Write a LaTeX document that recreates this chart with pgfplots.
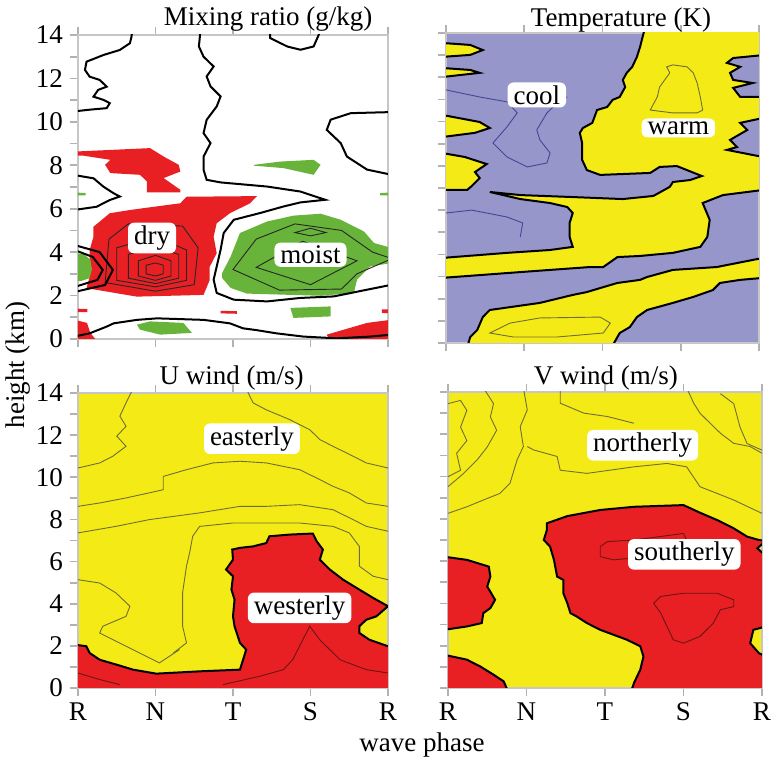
\documentclass[border=0pt]{standalone}
\usepackage{pgfplots}
\pgfplotsset{compat=1.18}
\usepackage{fontspec}
\setmainfont{Liberation Serif}
\definecolor{mred}{RGB}{232,32,36}
\definecolor{myel}{RGB}{244,234,22}
\definecolor{mgrn}{RGB}{104,180,58}
\definecolor{mlav}{RGB}{150,150,202}
\definecolor{cblue}{RGB}{70,70,150}
\definecolor{colive}{RGB}{110,110,50}
\definecolor{cdred}{RGB}{110,20,20}
\newcommand{\fs}{\fontsize{13.5}{16}\selectfont}
\pgfplotsset{
 panel/.style={scale only axis, anchor=south west, xmin=0,xmax=4,ymin=0,ymax=14,
  xtick={0,1,2,3,4}, ytick={0,2,...,14}, minor ytick={1,3,...,13},
  tick align=outside, xtick pos=both, ytick pos=left,
  major tick length=4pt, minor tick length=4pt,
  tick style={gray!60, line width=0.9pt},
  axis line style={gray!45, line width=0.8pt},
  tick label style={font=\fs},
  /pgf/number format/assume math mode=true,
  xticklabels={}},
}
\tikzset{
 zero/.style={draw=black, line width=1pt},
 thinc/.style={draw=black!85, line width=0.45pt},
 lab/.style={fill=white, rounded corners=3pt, inner xsep=3pt, inner ysep=1.5pt, font=\fs},
}
\begin{document}
\begin{tikzpicture}
\useasboundingbox (0,0) rectangle (386.5pt,381.5pt);
%================ Mixing ratio =================
\begin{axis}[panel, at={(39pt,212pt)}, width=155pt, height=152pt]
% dry region
\addplot[fill=mred, draw=none] coordinates {(0.20,5.17)(0.41,5.79)(0.67,5.94)(1.32,6.25)(1.40,6.55)(2.31,6.58)(2.22,6.25)(1.96,5.79)(1.79,5.33)(1.75,4.71)(1.79,3.95)(1.70,3.33)(1.70,2.72)(1.62,2.03)(0.76,1.95)(0.11,2.34)(0.15,2.87)(0.15,4.1)(0.20,4.71)} --cycle;
\addplot[fill=mred, draw=none] coordinates {(-0.05,8.63)(0.93,8.79)(1.105,8.40)(1.30,8.02)(1.32,7.71)(1.105,7.41)(1.32,6.87)(1.32,6.75)(0.89,6.75)(0.89,7.25)(0.80,7.56)(0.417,7.64)(0.35,8.02)(0.417,8.25)(0.073,8.44)(-0.05,8.44)} --cycle;
\addplot[fill=mred, draw=none] coordinates {(-0.05,0.89)(0.116,0.74)(0.159,0.28)(0.245,-0.1)(-0.05,-0.1)} --cycle;
\addplot[fill=mred, draw=none] coordinates {(3.21,0.2)(3.73,0.74)(4.05,0.89)(4.05,-0.1)(3.25,-0.1)} --cycle;
\addplot[fill=mred, draw=none] coordinates {(1.84,1.30)(2.05,1.28)(2.05,1.16)(1.84,1.18)} --cycle;
\addplot[fill=mred, draw=none] coordinates {(3.92,1.36)(4.05,1.36)(4.05,1.18)(3.92,1.20)} --cycle;
\addplot[fill=mred, draw=none] coordinates {(-0.05,1.40)(0.12,1.38)(0.12,1.24)(-0.05,1.24)} --cycle;
% moist region
\addplot[fill=mgrn, draw=none] coordinates {(1.86,3.04)(1.97,3.80)(2.09,4.88)(2.44,5.41)(2.78,5.68)(3.13,5.77)(3.39,5.49)(3.69,4.95)(3.82,4.42)(4.05,4.19)(4.05,3.50)(3.77,3.34)(3.60,2.73)(3.56,2.12)(3.13,1.99)(2.18,2.09)(1.97,2.35)(1.86,2.81)} --cycle;
\addplot[fill=mgrn, draw=none] coordinates {(-0.05,3.96)(0.08,3.90)(0.16,3.65)(0.18,3.20)(0.15,2.80)(0.05,2.68)(-0.05,2.65)} --cycle;
\addplot[fill=mgrn, draw=none] coordinates {(2.27,8.02)(2.61,8.17)(3.04,8.25)(3.13,8.02)(3.04,7.56)(2.65,7.87)(2.27,7.98)} --cycle;
\addplot[fill=mgrn, draw=none] coordinates {(2.74,1.43)(3.26,1.50)(3.26,1.04)(2.78,0.97)} --cycle;
\addplot[fill=mgrn, draw=none] coordinates {(0.76,0.66)(0.93,0.81)(1.36,0.74)(1.47,0.28)(1.06,0.20)(0.80,0.43)} --cycle;
\addplot[fill=mgrn, draw=none] coordinates {(-0.05,6.75)(0.10,6.72)(0.10,6.62)(-0.05,6.60)} --cycle;
\addplot[fill=mgrn, draw=none] coordinates {(3.90,6.72)(4.05,6.75)(4.05,6.60)(3.90,6.62)} --cycle;
% inner contours
\addplot[thinc] coordinates {(0.35,2.6)(0.4,4.6)(0.65,5.3)(1.35,5.2)(1.55,4.2)(1.5,2.5)(1.0,2.2)} --cycle;
\addplot[thinc] coordinates {(0.5,2.7)(0.5,4.2)(1.0,4.7)(1.4,4.1)(1.4,2.7)(1.0,2.4)} --cycle;
\addplot[thinc] coordinates {(0.65,2.8)(0.65,3.9)(1.0,4.2)(1.3,3.9)(1.3,2.8)(1.0,2.55)} --cycle;
\addplot[thinc] coordinates {(0.78,2.9)(0.78,3.6)(1.0,3.85)(1.2,3.6)(1.2,2.9)(1.0,2.7)} --cycle;
\addplot[thinc] coordinates {(0.88,3.0)(0.88,3.4)(1.0,3.5)(1.1,3.4)(1.1,3.0)(1.0,2.9)} --cycle;
\addplot[thinc] coordinates {(2.0,3.2)(2.3,4.6)(2.8,5.3)(3.4,5.0)(3.8,4.0)(4.05,3.7)(3.6,3.0)(3.4,2.3)(2.6,2.25)} --cycle;
\addplot[thinc] coordinates {(2.3,3.3)(2.9,4.5)(3.6,3.6)(3.0,2.5)} --cycle;
\addplot[thinc] coordinates {(2.8,4.9)(3.0,5.1)(3.2,4.9)(3.0,4.75)} --cycle;
% zero contours
\addplot[zero] coordinates {(0.70,14.2)(0.69,13.92)(0.67,13.62)(0.54,13.31)(0.33,13.08)(0.11,12.77)(0.09,12.39)(0.15,12.08)(0.28,11.93)(0.37,11.62)(0.26,11.47)(0.20,11.16)(0.33,11.01)(0.41,10.86)(0.37,10.63)(0.15,10.56)(-0.05,10.48)};
\addplot[zero] coordinates {(1.58,14.2)(1.56,13.47)(1.62,13.0)(1.75,12.55)(1.66,12.09)(1.71,11.63)(1.84,11.17)(1.79,10.71)(1.66,10.09)(1.62,9.48)(1.71,9.02)(1.62,8.40)(1.62,7.79)(1.66,7.33)(1.84,7.21)(2.44,7.02)(2.87,6.79)(3.19,6.41)(2.87,6.29)(2.65,6.10)(2.35,5.80)(2.01,5.49)(1.88,4.88)(1.84,4.11)(1.79,3.34)(1.75,2.73)(1.79,2.12)(2.01,1.81)(2.44,1.73)(2.87,1.89)(3.30,1.96)(3.73,2.27)(4.05,2.50)};
\addplot[zero] coordinates {(4.05,10.45)(3.52,10.4)(3.26,10.1)(3.21,9.63)(3.39,9.02)(3.47,8.4)(3.60,8.1)(3.73,7.8)(4.05,7.56)};
\addplot[zero] coordinates {(2.48,14.2)(2.48,13.86)(2.70,13.47)(2.87,13.32)(3.04,13.47)(3.13,14.2)};
\addplot[zero] coordinates {(-0.05,7.55)(0.20,7.40)(0.33,7.01)(0.46,6.71)(0.54,6.56)(0.41,6.40)(0.24,6.09)(-0.05,5.94)};
\addplot[zero] coordinates {(-0.05,0.11)(0.15,0.26)(0.37,0.57)(0.46,0.72)(0.76,0.88)(1.02,0.95)(1.62,0.88)(1.96,0.72)(2.13,0.49)(2.30,0.41)(2.56,0.26)(2.91,0.11)(3.34,0.03)(3.77,0.11)(4.05,0.2)};
\addplot[zero] coordinates {(-0.05,4.1)(0.19,3.78)(0.32,3.18)(0.25,2.72)(-0.05,2.39)};
\addplot[zero] coordinates {(-0.05,4.33)(0.28,4.0)(0.45,3.18)(0.35,2.49)(-0.05,2.16)};
\node[lab] at (axis cs:0.955,4.65) {dry};
\node[lab] at (axis cs:3.0,3.88) {moist};
\end{axis}
%================ Temperature =================
\begin{axis}[panel, at={(223pt,210pt)}, width=156.5pt, height=155pt, yticklabels={}, axis background/.style={fill=mlav}]
\addplot[fill=myel, zero] coordinates {(2.54,14.2)(4.05,14.2)(4.05,6.91)(3.54,6.68)(3.28,6.32)(3.37,5.56)(3.34,4.79)(3.25,4.34)(2.90,4.07)(2.48,3.93)(2.19,3.88)(2.01,3.43)(1.84,3.43)(0.98,3.21)(-0.05,2.94)(-0.05,3.84)(0.78,4.07)(1.33,4.20)(1.62,4.34)(1.58,4.79)(1.58,5.42)(1.62,5.87)(1.55,6.14)(1.33,6.32)(0.95,6.50)(0.56,6.82)(0.95,6.68)(1.62,6.59)(2.26,6.50)(2.65,6.64)(2.86,7.05)(2.90,7.27)(3.12,7.36)(3.27,7.54)(2.95,7.99)(2.73,7.95)(2.61,7.68)(1.97,7.59)(1.80,7.81)(1.74,8.27)(1.74,9.03)(1.71,9.49)(1.75,9.71)(1.87,9.94)(1.93,10.52)(2.06,10.66)(2.13,10.98)(2.22,11.11)(2.29,11.56)(2.26,11.88)(2.31,12.20)(2.38,12.47)(2.44,12.92)(2.48,13.37)} --cycle;
\addplot[fill=myel, zero] coordinates {(4.05,3.84)(3.46,3.43)(2.90,3.30)(2.57,2.98)(2.48,2.85)(2.19,2.71)(1.97,2.48)(1.80,2.30)(1.62,2.17)(1.20,1.81)(0.56,1.49)(0.47,1.17)(0.40,0.59)(0.31,0.27)(0.26,-0.3)(2.10,-0.3)(2.22,0.45)(2.35,0.72)(2.44,1.17)(2.57,1.49)(2.90,1.81)(3.16,2.08)(3.41,2.39)(3.50,2.71)(3.76,2.85)(4.05,2.94)} --cycle;
\addplot[fill=myel, zero] coordinates {(-0.05,13.55)(0.31,13.46)(0.47,13.23)(0.31,13.01)(-0.05,12.92)} --cycle;
\addplot[fill=myel, zero] coordinates {(-0.05,12.42)(0.31,12.33)(0.43,12.2)(-0.05,12.01)} --cycle;
\addplot[fill=myel, zero] coordinates {(-0.05,10.3)(0.43,9.98)(0.56,9.71)(0.37,9.49)(-0.05,9.3)} --cycle;
\addplot[fill=myel, zero] coordinates {(-0.05,8.58)(0.24,8.40)(0.52,8.08)(0.37,7.72)(0.43,7.45)(0.33,7.09)(0.27,6.91)(-0.05,6.91)} --cycle;
\addplot[fill=mlav, zero] coordinates {(4.05,13.0)(3.67,12.87)(3.59,12.65)(3.76,12.47)(3.63,12.2)(3.67,11.88)(3.92,11.74)(3.67,11.52)(3.76,11.11)(4.05,11.11)} --cycle;
\addplot[fill=mlav, zero] coordinates {(4.05,10.16)(3.76,9.94)(3.85,9.62)(3.63,9.17)(3.72,8.85)(3.59,8.72)(4.05,8.40)} --cycle;
\addplot[draw=cblue, line width=0.45pt] coordinates {(0,11.43)(0.43,11.11)(0.78,10.89)(0.91,10.39)(0.78,9.76)(0.60,9.03)(0.78,8.40)(1.04,7.95)(1.29,8.13)(1.33,8.58)(1.20,9.17)(1.16,9.62)(1.29,10.39)(1.46,10.98)(1.55,11.11)};
\addplot[draw=cblue, line width=0.45pt] coordinates {(0,5.87)(0.33,6.0)(0.78,5.69)(0.98,5.42)(0.95,4.79)};
\addplot[draw=colive, line width=0.45pt] coordinates {(2.82,12.47)(2.90,12.56)(3.08,12.47)(3.16,12.2)(3.21,11.74)(3.25,11.11)(3.28,10.52)(3.21,10.39)(2.90,10.39)(2.61,10.52)(2.70,11.11)(2.73,11.56)(2.86,12.2)} --cycle;
\addplot[draw=colive, line width=0.45pt] coordinates {(0.56,0.45)(0.82,0.90)(1.20,1.13)(1.97,1.17)(2.10,0.90)(2.01,0.45)(1.42,0.27)(0.86,0.27)} --cycle;
\node[lab] at (axis cs:1.16,11.2) {cool};
\node[lab] at (axis cs:2.97,9.71) {warm};
\end{axis}
%================ U wind =================
\begin{axis}[panel, at={(39pt,37.5pt)}, width=155pt, height=147.5pt, xticklabels={R,N,T,S,R}, axis background/.style={fill=myel}]
\addplot[fill=mred, zero] coordinates {(-0.05,2.06)(0.108,1.98)(0.15,1.66)(0.28,1.34)(0.495,1.11)(0.71,0.87)(1.01,0.68)(1.57,0.79)(2.09,0.87)(2.13,1.34)(2.17,1.82)(2.09,2.14)(2.02,2.93)(2.0,3.40)(2.02,4.19)(1.98,4.67)(2.0,5.30)(1.91,5.62)(2.0,6.09)(1.99,6.57)(2.09,6.65)(2.26,6.72)(2.43,6.88)(2.47,7.20)(2.73,7.28)(3.03,7.33)(3.08,6.96)(3.16,6.57)(3.12,6.09)(3.25,5.62)(3.42,5.14)(3.63,4.67)(3.81,4.27)(4.0,3.88)(3.85,3.40)(3.72,3.24)(3.63,2.93)(3.63,2.61)(3.76,2.29)(4.0,1.98)(4.05,1.98)(4.05,-0.3)(-0.05,-0.3)} --cycle;
\addplot[draw=colive, line width=0.45pt] coordinates {(2.17,14.2)(2.26,13.53)(2.43,13.2)(2.73,12.74)(2.99,12.26)(3.12,11.79)(3.29,11.47)(3.55,11.0)(3.72,10.68)(4.0,10.44)};
\addplot[draw=colive, line width=0.45pt] coordinates {(0.71,14.2)(0.62,13.53)(0.54,12.9)(0.62,12.42)(0.50,11.95)(0.62,11.47)(0.45,11.0)(0.28,10.68)(0.0,10.44)};
\addplot[draw=colive, line width=0.45pt] coordinates {(0,8.62)(0.28,8.78)(0.62,9.02)(0.92,9.26)(1.1,9.41)(1.1,10.04)(1.4,10.36)(1.74,10.68)(2.09,10.76)(2.43,10.68)(2.86,10.36)(3.12,9.89)(3.29,9.57)(3.5,9.26)(3.72,8.78)(4,8.62)};
\addplot[draw=colive, line width=0.45pt] coordinates {(0,7.36)(0.49,7.67)(0.92,7.99)(1.57,8.31)(2.09,8.62)(2.43,8.62)(2.86,8.70)(3.29,8.46)(3.55,7.99)(3.72,7.67)(4,7.44)};
\addplot[draw=colive, line width=0.45pt] coordinates {(1.23,1.66)(1.40,2.14)(1.35,2.93)(1.35,4.53)(1.40,5.78)(1.44,6.41)(1.48,7.20)(1.57,7.67)(2.0,7.83)(2.86,7.83)(3.29,7.67)(3.5,7.36)(3.63,6.72)(3.63,5.78)(3.81,5.30)(4,5.14)};
\addplot[draw=colive, line width=0.45pt] coordinates {(0,5.14)(0.28,4.98)(0.49,4.51)(0.67,3.88)(0.62,3.40)(0.32,2.93)(0.28,2.61)(0.62,1.98)(1.05,1.19)(1.31,1.82)};
\addplot[draw=cdred, line width=0.45pt] coordinates {(1.87,0.16)(2.34,0.55)(2.65,0.87)(2.77,1.34)(2.99,2.93)(3.12,2.29)(3.38,1.34)(3.72,0.87)(4,0.71)};
\addplot[draw=cdred, line width=0.45pt] coordinates {(0,0.71)(0.28,0.40)(0.54,0.16)};
\node[lab] at (axis cs:2.245,11.83) {easterly};
\node[lab] at (axis cs:2.86,3.80) {westerly};
\end{axis}
%================ V wind =================
\begin{axis}[panel, at={(224pt,37.5pt)}, width=157pt, height=148pt, yticklabels={}, xticklabels={R,N,T,S,R}, axis background/.style={fill=myel}]
\addplot[fill=mred, zero] coordinates {(1.26,7.79)(1.52,8.13)(1.94,8.42)(2.37,8.57)(3.0,8.65)(3.21,8.29)(3.43,7.94)(3.64,7.55)(3.81,7.16)(3.96,7.0)(4.05,6.95)(3.94,6.61)(4.05,6.25)(4.05,2.91)(3.89,2.75)(3.85,2.12)(3.96,1.65)(4.05,1.49)(4.05,-0.3)(2.32,-0.3)(2.37,0.24)(2.45,0.87)(2.49,1.49)(2.45,1.97)(2.28,2.28)(1.94,2.75)(1.77,3.07)(1.64,3.38)(1.56,3.54)(1.52,4.01)(1.47,4.48)(1.47,5.11)(1.39,5.27)(1.35,6.06)(1.30,6.69)(1.22,7.0)(1.26,7.47)} --cycle;
\addplot[fill=mred, zero] coordinates {(-0.05,6.21)(0.24,6.06)(0.52,5.74)(0.54,5.27)(0.50,4.80)(0.60,4.17)(0.54,3.78)(0.45,3.54)(0.43,3.07)(0.24,2.91)(-0.05,2.75)} --cycle;
\addplot[fill=mred, zero] coordinates {(-0.05,1.57)(0.24,1.34)(0.41,1.02)(0.58,0.63)(0.71,0.31)(0.78,-0.3)(-0.05,-0.3)} --cycle;
\addplot[draw=colive, line width=0.45pt] coordinates {(0,8.26)(0.24,8.57)(0.45,8.89)(0.66,9.2)(0.79,9.68)(0.84,10.3)(0.88,10.79)(0.96,11.42)(0.92,12.36)(1.01,13.15)(0.96,14.2)};
\addplot[draw=colive, line width=0.45pt] coordinates {(1.01,11.42)(1.09,11.26)(1.39,10.95)(1.43,10.3)(1.77,10.15)(2.37,10.46)(2.79,10.62)(3.04,10.46)(3.21,9.52)(3.43,9.2)(3.64,8.89)(4.0,8.26)};
\addplot[draw=colive, line width=0.45pt] coordinates {(1.43,14.2)(1.43,13.47)(1.73,13.0)(2.03,12.84)(2.19,12.69)(2.37,12.52)};
\addplot[draw=colive, line width=0.45pt] coordinates {(3.04,14.2)(3.13,13.47)(3.21,13.0)(3.34,12.52)(3.47,12.05)(3.64,11.57)(3.85,11.42)(4,11.1)};
\addplot[draw=colive, line width=0.45pt] coordinates {(0,13.45)(0.16,13.6)(0.24,13.13)(0.16,12.34)(0.24,11.7)(0.11,11.1)(0.16,10.3)(0,9.99)};
\addplot[draw=colive, line width=0.45pt] coordinates {(0.45,14.2)(0.58,13.45)(0.54,12.82)(0.62,12.19)(0.50,11.4)(0.37,10.78)(0.2,10.15)(0,9.52)};
\addplot[draw=colive, line width=0.45pt] coordinates {(3.47,13.92)(3.64,13.45)(3.72,12.34)(3.81,11.56)(4.0,11.25)};
\addplot[draw=cdred, line width=0.45pt] coordinates {(1.94,6.69)(2.03,6.92)(2.37,7.0)(2.7,7.16)(3.0,7.31)(3.04,7.0)(2.79,6.69)(2.54,6.21)(2.11,6.06)(1.94,6.21)} --cycle;
\addplot[draw=cdred, line width=0.45pt] coordinates {(2.62,4.01)(2.71,4.33)(3.0,4.48)(3.43,4.48)(3.64,4.17)(3.64,3.85)(3.47,3.70)(3.38,3.07)(3.21,2.44)(3.0,2.12)(2.87,2.28)(2.79,2.91)(2.71,3.54)} --cycle;
\node[lab] at (axis cs:2.48,11.48) {northerly};
\node[lab] at (axis cs:3.01,6.32) {southerly};
\end{axis}
% titles and labels
\node[anchor=base, font=\fs] at (134pt,368.5pt) {Mixing ratio (g/kg)};
\node[anchor=base, font=\fs] at (310.5pt,368.2pt) {Temperature (K)};
\node[anchor=base, font=\fs] at (115.8pt,189pt) {U wind (m/s)};
\node[anchor=base, font=\fs] at (302.9pt,189pt) {V wind (m/s)};
\node[rotate=90, font=\fs] at (9pt,199pt) {height (km)};
\node[anchor=base, font=\fs] at (211pt,5.5pt) {wave phase};
\end{tikzpicture}
\end{document}
